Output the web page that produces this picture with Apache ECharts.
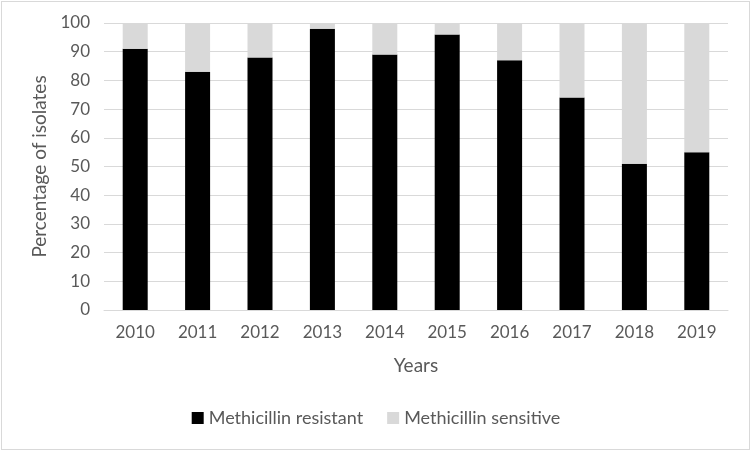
<!DOCTYPE html>
<html>
<head>
<meta charset="utf-8">
<script src="https://cdn.jsdelivr.net/npm/echarts@6/dist/echarts.min.js"></script>
<style>
  html, body { margin: 0; padding: 0; background: #fff; }
  #chart { width: 752px; height: 451px; }
  .frame { position: absolute; left: 1px; top: 1px; width: 747px; height: 447px; border: 1px solid #d9d9d9; pointer-events: none; }
</style>
</head>
<body>
<div id="chart"></div>
<div class="frame"></div>
<script>
var years = ['2010', '2011', '2012', '2013', '2014', '2015', '2016', '2017', '2018', '2019'];
var resistant = [91, 83, 88, 98, 89, 96, 87, 74, 51, 55];
var sensitive = [9, 17, 12, 2, 11, 4, 13, 26, 49, 45];

var txt = '#595959';
var font = 'Lato, "Open Sans", sans-serif';

var myChart = echarts.init(document.getElementById('chart'));

var option = {
    animation: false,
    textStyle: { fontFamily: font },
    grid: { left: 104, right: 24, top: 23, bottom: 141 },
    legend: {
        bottom: 19,
        left: 'center',
        itemWidth: 12,
        itemHeight: 12,
        itemGap: 24,
        icon: 'rect',
        textStyle: { color: txt, fontSize: 18, fontFamily: font },
        data: ['Methicillin resistant', 'Methicillin sensitive']
    },
    xAxis: {
        type: 'category',
        data: years,
        name: 'Years',
        nameLocation: 'middle',
        nameGap: 46,
        nameTextStyle: { color: txt, fontSize: 19 },
        axisLine: { lineStyle: { color: '#d9d9d9' } },
        axisTick: { show: false },
        axisLabel: { color: txt, fontSize: 17, margin: 14 }
    },
    yAxis: {
        type: 'value',
        min: 0,
        max: 100,
        interval: 10,
        name: 'Percentage of isolates',
        nameLocation: 'middle',
        nameGap: 52,
        nameTextStyle: { color: txt, fontSize: 19 },
        axisLine: { show: false },
        axisTick: { show: false },
        axisLabel: { color: txt, fontSize: 17, margin: 14 },
        splitLine: { lineStyle: { color: '#d9d9d9' } }
    },
    series: [
        {
            name: 'Methicillin resistant',
            type: 'bar',
            stack: 'total',
            barWidth: 25,
            itemStyle: { color: '#000000' },
            data: resistant
        },
        {
            name: 'Methicillin sensitive',
            type: 'bar',
            stack: 'total',
            barWidth: 25,
            itemStyle: { color: '#d9d9d9' },
            data: sensitive
        }
    ]
};

myChart.setOption(option);
</script>
</body>
</html>
